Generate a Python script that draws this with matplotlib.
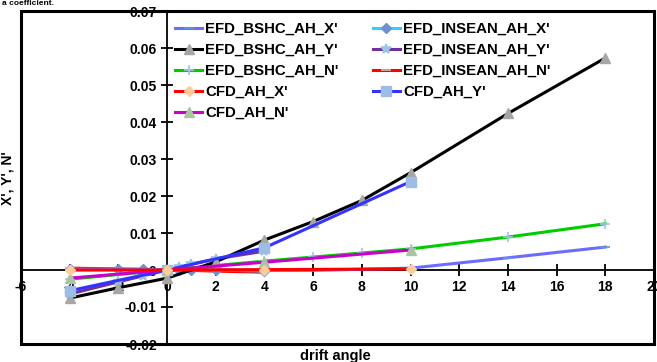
import matplotlib
matplotlib.use("Agg")
import matplotlib.pyplot as plt
from matplotlib.patches import Rectangle
from matplotlib.ticker import FuncFormatter, MultipleLocator

plt.rcParams['font.family'] = ['Liberation Sans', 'DejaVu Sans']
plt.rcParams['font.weight'] = 'bold'

# ---- data ----
bshc_x_angle = [-4, -2, 0, 2, 4, 6, 8, 10, 14, 18]
bshc_X = [0.0001, 0.0001, 0.0, 0.0, -0.0001, -0.0001, 0.0002, 0.0005, 0.0033, 0.0062]
bshc_Y = [-0.0076, -0.0048, -0.0022, 0.0022, 0.0081, 0.0131, 0.0188, 0.0263, 0.0423, 0.0573]
bshc_N = [-0.0025, -0.0012, 0.0, 0.0012, 0.0024, 0.0035, 0.0046, 0.0057, 0.0089, 0.0125]

insean_angle = [-4, -2, -1, 0, 0.5, 1, 2, 4]
insean_X = [0.0002, 0.0002, 0.0002, 0.0, 0.0001, 0.0001, 0.0, -0.0003]
insean_Y = [-0.0065, -0.0032, -0.0016, 0.0, 0.0008, 0.0016, 0.0030, 0.0051]
insean_N = [0.0005, 0.0003, 0.0002, 0.0, -0.0001, -0.0001, -0.0003, -0.0006]

cfd_angle = [-4, 0, 4, 10]
cfd_X = [0.0, 0.0, 0.0001, 0.0003]
cfd_Y = [-0.0056, 0.0, 0.0060, 0.0239]
cfd_N = [-0.0022, 0.0, 0.0021, 0.0054]

x_ticks = [-6, -4, -2, 0, 2, 4, 6, 8, 10, 12, 14, 16, 18, 20]

fig = plt.figure(figsize=(6.57, 3.62), dpi=100)
W, H = 657, 362
ax = fig.add_axes([21 / W, 1 - 344 / H, (654 - 21) / W, (344 - 11) / H])

lw = 2.2
ms = 7
series = [
    ("EFD_BSHC_AH_X'", bshc_x_angle, bshc_X, '#6b6bff', '_', '#5b9bd5'),
    ("EFD_BSHC_AH_Y'", bshc_x_angle, bshc_Y, '#000000', '^', '#a6a6a6'),
    ("EFD_BSHC_AH_N'", bshc_x_angle, bshc_N, '#00cc00', '+', '#9dc3e6'),
    ("CFD_AH_X'", cfd_angle, cfd_X, '#ff0000', 'D', '#ffcc99'),
    ("CFD_AH_N'", cfd_angle, cfd_N, '#cc00cc', '^', '#a9c4a0'),
    ("EFD_INSEAN_AH_X'", insean_angle, insean_X, '#33ccff', 'D', '#6f8fcf'),
    ("EFD_INSEAN_AH_Y'", insean_angle, insean_Y, '#7030a0', '*', '#9dc3e6'),
    ("EFD_INSEAN_AH_N'", insean_angle, insean_N, '#ff0000', '_', '#bfbfbf'),
    ("CFD_AH_Y'", cfd_angle, cfd_Y, '#3333ff', 's', '#9dbde6'),
]

draw_order = [7, 5, 6, 0, 2, 1, 8, 4, 3]
handles = {}
for i in draw_order:
    name, xs, ys, c, m, mc = series[i]
    mkw = dict(markersize=ms, markerfacecolor=mc, markeredgecolor=mc)
    if m in ('+', '*', '_'):
        mkw['markeredgewidth'] = 1.2
    if m == 'D':
        mkw['markersize'] = 5.5
    h, = ax.plot(xs, ys, color=c, lw=lw, marker=m, label=name, zorder=3, clip_on=False, **mkw)
    handles[i] = h

ax.set_xlim(-6, 20)
ax.set_ylim(-0.02, 0.07)
ax.set_xticks(x_ticks)
ax.yaxis.set_major_locator(MultipleLocator(0.01))

def yfmt(v, pos):
    if abs(v) < 1e-9:
        return '0'
    return '%.2f' % v

def xfmt(v, pos):
    return '%d' % round(v)

ax.yaxis.set_major_formatter(FuncFormatter(yfmt))
ax.xaxis.set_major_formatter(FuncFormatter(xfmt))

for s in ['left', 'bottom']:
    ax.spines[s].set_position(('data', 0))
    ax.spines[s].set_linewidth(1.3)
    ax.spines[s].set_zorder(2)
for s in ['top', 'right']:
    ax.spines[s].set_visible(False)

ax.add_patch(Rectangle((0, 0), 1, 1, transform=ax.transAxes, fill=False,
                       lw=2.2, edgecolor='black', clip_on=False, zorder=5))

ax.tick_params(axis='both', direction='inout', length=9, width=1.3,
               labelsize=10)
ax.tick_params(axis='y', pad=3)
ax.tick_params(axis='x', pad=3)
for lab in ax.get_xticklabels() + ax.get_yticklabels():
    lab.set_fontweight('bold')

fig.text(335 / W, 1 - 356 / H, 'drift angle', fontsize=10.5,
         fontweight='bold', ha='center', va='center')
fig.text(8 / W, 1 - 178 / H, "X', Y', N'", rotation=90, fontsize=10,
         fontweight='bold', ha='center', va='center')
fig.text(2 / W, 1.0, 'a coefficient.', fontsize=6, fontweight='bold',
         ha='left', va='top')

leg = fig.legend([handles[i] for i in range(9)], [s[0] for s in series],
                 ncol=2, loc='upper left', bbox_to_anchor=(175 / W, 1 - 22 / H),
                 frameon=False, borderpad=0, borderaxespad=0,
                 handlelength=1.8, handletextpad=0.2, columnspacing=2.3,
                 labelspacing=0.47, prop={'weight': 'bold', 'size': 10.8})

fig.savefig('out.png', dpi=100)
